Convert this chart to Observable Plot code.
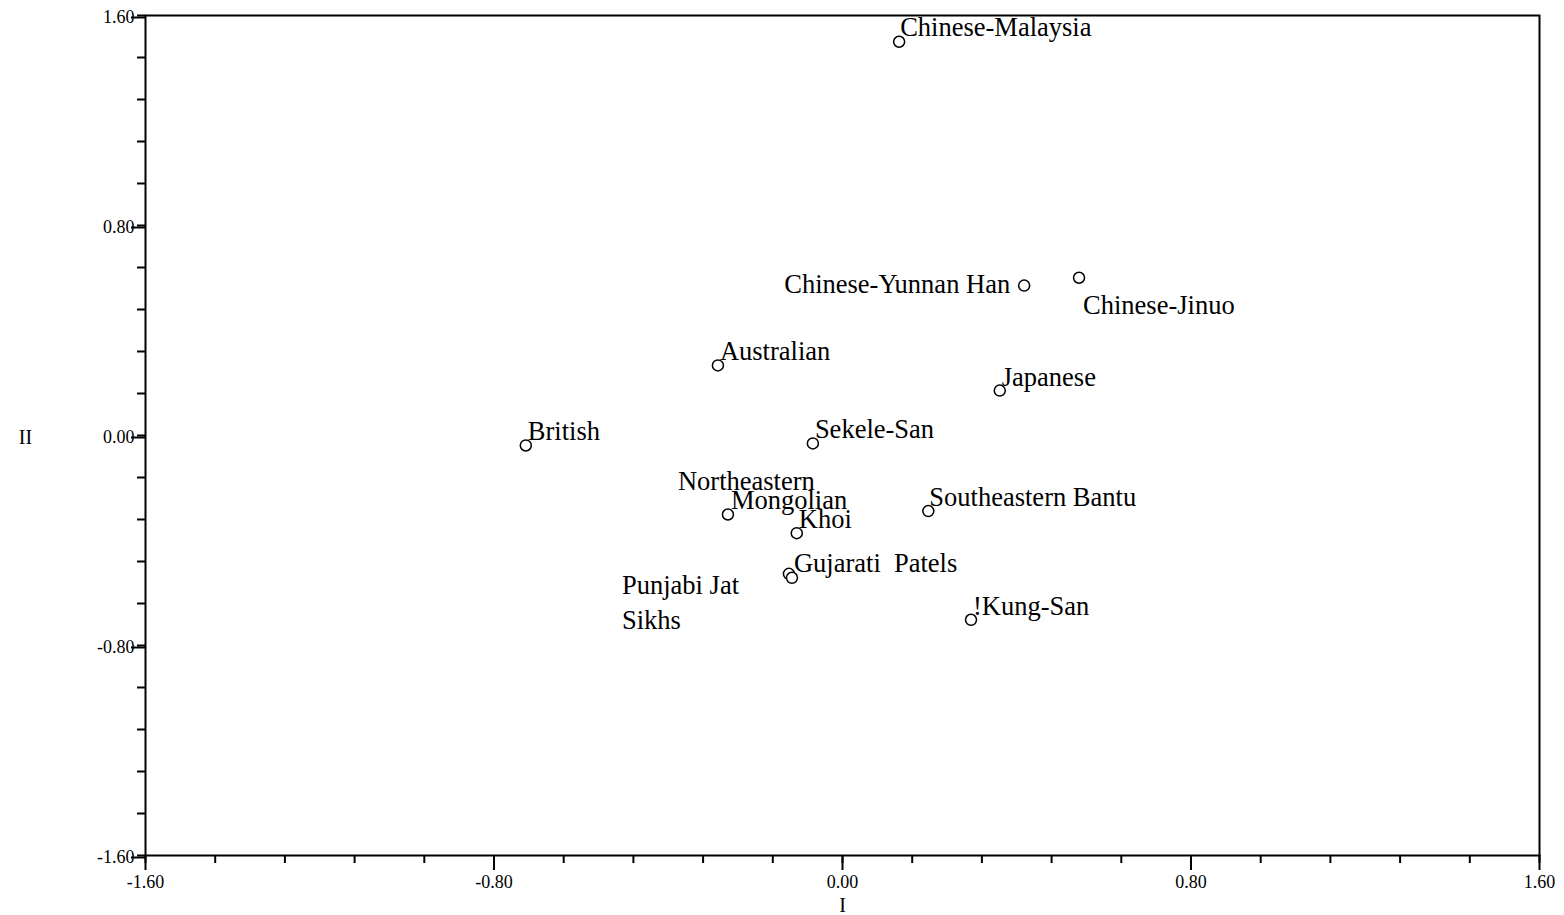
<!DOCTYPE html>
<html>
<head>
<meta charset="utf-8">
<script src="https://cdn.jsdelivr.net/npm/d3@7"></script>
<script src="https://cdn.jsdelivr.net/npm/@observablehq/plot@0.6"></script>
<style>
  html, body { margin: 0; padding: 0; background: #fff; }
  svg { display: block; }
  svg text { white-space: pre; }
</style>
</head>
<body>
<div id="chart"></div>
<script>
// ---- data ----
const populations = [
  "Chinese-Malaysia", "Chinese-Yunnan Han", "Chinese-Jinuo", "Australian", "Japanese",
  "British", "Sekele-San", "Northeastern Mongolian", "Southeastern Bantu", "Khoi",
  "Gujarati Patels", "Punjabi Jat Sikhs", "!Kung-San"
];
const dimI  = [0.13, 0.417, 0.543, -0.286, 0.361, -0.727, -0.068, -0.263, 0.197, -0.105, -0.123, -0.116, 0.295];
const dimII = [1.50, 0.571, 0.601, 0.267, 0.171, -0.038, -0.030, -0.301, -0.288, -0.372, -0.527, -0.542, -0.702];

const majorTicks = [-1.6, -0.8, 0, 0.8, 1.6];
const majorTickLabels = ["-1.60", "-0.80", "0.00", "0.80", "1.60"];
const minorTicks = d3.range(0, 21).map(i => +(-1.6 + i * 0.16).toFixed(2));

// label text lines attached to each population (placement is styling)
const labelLines = [
  {pop: "Chinese-Malaysia", text: "Chinese-Malaysia", dx: 1, dy: -14, anchor: "start"},
  {pop: "Chinese-Yunnan Han", text: "Chinese-Yunnan Han", dx: -14, dy: -1, anchor: "end"},
  {pop: "Chinese-Jinuo", text: "Chinese-Jinuo", dx: 4, dy: 28, anchor: "start"},
  {pop: "Australian", text: "Australian", dx: 2, dy: -14, anchor: "start"},
  {pop: "Japanese", text: "Japanese", dx: 2, dy: -13, anchor: "start"},
  {pop: "British", text: "British", dx: 2, dy: -14, anchor: "start"},
  {pop: "Sekele-San", text: "Sekele-San", dx: 2, dy: -14, anchor: "start"},
  {pop: "Northeastern Mongolian", text: "Northeastern", dx: -50, dy: -33, anchor: "start"},
  {pop: "Northeastern Mongolian", text: "Mongolian", dx: 3, dy: -14, anchor: "start"},
  {pop: "Southeastern Bantu", text: "Southeastern Bantu", dx: 1, dy: -14, anchor: "start"},
  {pop: "Khoi", text: "Khoi", dx: 2, dy: -14, anchor: "start"},
  {pop: "Gujarati Patels", text: "Gujarati  Patels", dx: 5, dy: -10, anchor: "start"},
  {pop: "Punjabi Jat Sikhs", text: "Punjabi Jat", dx: -170, dy: 8, anchor: "start"},
  {pop: "Punjabi Jat Sikhs", text: "Sikhs", dx: -170, dy: 43, anchor: "start"},
  {pop: "!Kung-San", text: "!Kung-San", dx: 2, dy: -13, anchor: "start"}
];

const points = populations.map((p, i) => ({pop: p, x: dimI[i], y: dimII[i]}));
const byPop = new Map(points.map(d => [d.pop, d]));

const FONT = "'Liberation Serif', 'Times New Roman', Times, serif";

const textMarks = labelLines.map(l => {
  const d = byPop.get(l.pop);
  return Plot.text([d], {
    x: "x", y: "y", text: () => l.text,
    dx: l.dx, dy: l.dy, textAnchor: l.anchor, lineAnchor: "middle",
    fontSize: 26.5, fill: "black"
  });
});

const chart = Plot.plot({
  width: 1564,
  height: 915,
  marginLeft: 145,
  marginRight: 25,
  marginTop: 15,
  marginBottom: 60,
  style: {fontFamily: FONT, fontSize: "18px", color: "black", background: "white"},
  x: {domain: [-1.6, 1.6]},
  y: {domain: [-1.6, 1.6]},
  marks: [
    Plot.axisX(minorTicks, {tickSize: 8, strokeWidth: 2, text: null, label: null}),
    Plot.axisX(majorTicks, {tickSize: 15, strokeWidth: 2, tickPadding: 5,
      tickFormat: d => majorTickLabels[majorTicks.indexOf(d)], label: null, fontSize: 18}),
    Plot.axisY(minorTicks, {tickSize: 8, strokeWidth: 2, text: null, label: null}),
    Plot.axisY(majorTicks, {tickSize: 14, strokeWidth: 2, tickPadding: -3, dy: 2,
      tickFormat: d => majorTickLabels[majorTicks.indexOf(d)], label: null, fontSize: 18}),
    Plot.frame({stroke: "black", strokeWidth: 2}),
    Plot.text(["I"], {frameAnchor: "bottom", dy: 50, fontSize: 20, lineAnchor: "middle"}),
    Plot.text(["II"], {frameAnchor: "left", dx: -120, dy: 2, fontSize: 20, textAnchor: "middle"}),
    Plot.dot(points, {x: "x", y: "y", r: 5.5, stroke: "black", strokeWidth: 1.5, fill: "white"}),
    ...textMarks
  ]
});

document.getElementById("chart").appendChild(chart);
</script>
</body>
</html>
